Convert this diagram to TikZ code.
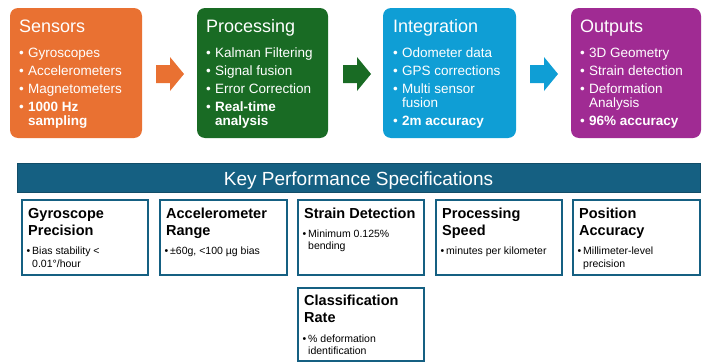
\documentclass[tikz,border=0pt]{standalone}
\usepackage{fontspec}
\setmainfont{Liberation Sans}
\definecolor{corange}{HTML}{E97132}
\definecolor{cgreen}{HTML}{196B24}
\definecolor{cblue}{HTML}{0F9ED5}
\definecolor{cpurple}{HTML}{A02B93}
\definecolor{cteal}{HTML}{156082}
\tikzset{
  topbox/.style={rounded corners=8pt, draw=none},
  ttitle/.style={anchor=base west, inner sep=0pt, text=white, font=\fontsize{18}{18}\selectfont},
  ttext/.style={anchor=base west, inner sep=0pt, text=white, font=\fontsize{13.5}{13.5}\selectfont},
  tbold/.style={ttext, font=\fontsize{13.5}{13.5}\selectfont\bfseries},
  specbox/.style={draw=cteal, line width=1.2pt, fill=white},
  stitle/.style={anchor=base west, inner sep=0pt, text=black, font=\fontsize{14.5}{14.5}\selectfont\bfseries},
  stext/.style={anchor=base west, inner sep=0pt, text=black, font=\fontsize{10.5}{10.5}\selectfont}
}
% top bullet: name, text x, baseline, text, style
\newcommand\tbul[5]{\node[ttext] (#1b) at (#2-9,#3) {\textbullet}; \node[#5] (#1) at (#2,#3) {#4};}
\newcommand\tcont[5]{\node[#5] (#1) at (#2,#3) {#4};}
\newcommand\sbul[4]{\node[stext] (#1b) at (#2-5.5,#3) {\textbullet}; \node[stext] (#1) at (#2,#3) {#4};}
\newcommand\scont[4]{\node[stext] (#1) at (#2,#3) {#4};}
\begin{document}
\begin{tikzpicture}[x=1pt,y=-1pt]
\useasboundingbox (0,0) rectangle (702,364);
% top boxes
\path[topbox, fill=corange] (10,8) rectangle (142,138);
\node[ttitle] (t1) at (19,32) {Sensors};
\tbul{a1}{28}{57}{Gyroscopes}{ttext}
\tbul{a2}{28}{75}{Accelerometers}{ttext}
\tbul{a3}{28}{93}{Magnetometers}{ttext}
\tbul{a4}{28}{111}{1000 Hz}{tbold}
\tcont{a5}{28}{125}{sampling}{tbold}

\path[topbox, fill=cgreen] (197,8) rectangle (328,138);
\node[ttitle] (t2) at (206,32) {Processing};
\tbul{b1}{215}{57}{Kalman Filtering}{ttext}
\tbul{b2}{215}{75}{Signal fusion}{ttext}
\tbul{b3}{215}{93}{Error Correction}{ttext}
\tbul{b4}{215}{111}{Real-time}{tbold}
\tcont{b5}{215}{125}{analysis}{tbold}

\path[topbox, fill=cblue] (383,8) rectangle (516,138);
\node[ttitle] (t3) at (393,32) {Integration};
\tbul{c1}{402}{57}{Odometer data}{ttext}
\tbul{c2}{402}{75}{GPS corrections}{ttext}
\tbul{c3}{402}{93}{Multi sensor}{ttext}
\tcont{c4}{402}{107}{fusion}{ttext}
\tbul{c5}{402}{125}{2m accuracy}{tbold}

\path[topbox, fill=cpurple] (571,8) rectangle (701,138);
\node[ttitle] (t4) at (580,32) {Outputs};
\tbul{d1}{589}{57}{3D Geometry}{ttext}
\tbul{d2}{589}{75}{Strain detection}{ttext}
\tbul{d3}{589}{93}{Deformation}{ttext}
\tcont{d4}{589}{107}{Analysis}{ttext}
\tbul{d5}{589}{125}{96\% accuracy}{tbold}

% block arrows
\fill[corange] (156,65) -- (170,65) -- (170,57) -- (184,74) -- (170,91) -- (170,83) -- (156,83) -- cycle;
\fill[cgreen] (343,65) -- (357,65) -- (357,57) -- (371,74) -- (357,91) -- (357,83) -- (343,83) -- cycle;
\fill[cblue] (530,65) -- (544,65) -- (544,57) -- (558,74) -- (544,91) -- (544,83) -- (530,83) -- cycle;

% banner
\path[fill=cteal, draw=cteal!80!black, line width=0.6pt] (17,163) rectangle (700,192);
\node[anchor=base, inner sep=0pt, text=white, font=\fontsize{19}{19}\selectfont] (ban) at (358.5,185) {Key Performance Specifications};

% spec boxes
\path[specbox] (22,200) rectangle (148,275);
\node[stitle] (g1) at (28,218) {Gyroscope};
\node[stitle] (g2) at (28,235) {Precision};
\sbul{g3}{32}{254}{Bias stability <}
\scont{g4}{32}{267}{0.01°/hour}

\path[specbox] (160,200) rectangle (287,275);
\node[stitle] (h1) at (166,218) {Accelerometer};
\node[stitle] (h2) at (166,235) {Range};
\sbul{h3}{170}{254}{±60g, <100 µg bias}

\path[specbox] (298,200) rectangle (424,275);
\node[stitle] (i1) at (304,218) {Strain Detection};
\sbul{i2}{308}{237}{Minimum 0.125\%}
\scont{i3}{308}{249}{bending}

\path[specbox] (436,200) rectangle (562,275);
\node[stitle] (j1) at (442,218) {Processing};
\node[stitle] (j2) at (442,235) {Speed};
\sbul{j3}{446}{254}{minutes per kilometer}

\path[specbox] (573,200) rectangle (700,275);
\node[stitle] (k1) at (579,218) {Position};
\node[stitle] (k2) at (579,235) {Accuracy};
\sbul{k3}{583}{254}{Millimeter-level}
\scont{k4}{583}{267}{precision}

\path[specbox] (298,288) rectangle (424,361);
\node[stitle] (m1) at (304,305) {Classification};
\node[stitle] (m2) at (304,322) {Rate};
\sbul{m3}{308}{342}{\% deformation}
\scont{m4}{308}{354}{identification}
\end{tikzpicture}
\end{document}
